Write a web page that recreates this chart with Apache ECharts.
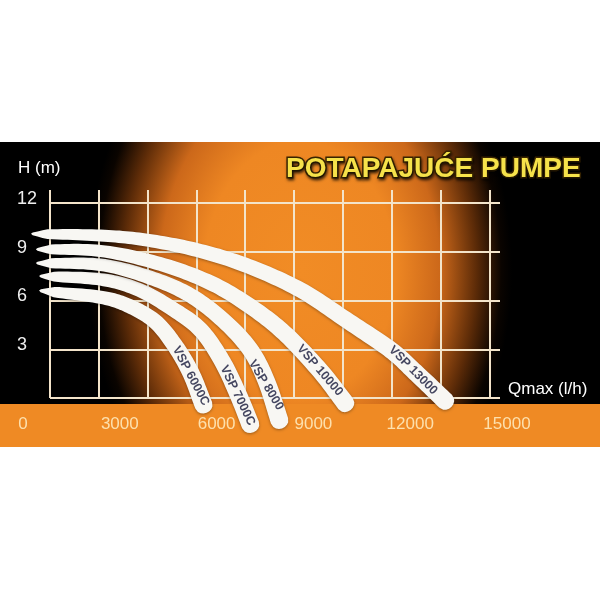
<!DOCTYPE html>
<html><head><meta charset="utf-8">
<script src="https://cdn.jsdelivr.net/npm/echarts@6/dist/echarts.min.js"></script>
<style>html,body{margin:0;padding:0;background:#fff;}#c{width:600px;height:600px;}</style>
</head><body><div id="c"></div>
<script>
// ---- data ----
const xTickValues = [0, 3000, 6000, 9000, 12000, 15000];
const yTickValues = [0, 3, 6, 9, 12];
const curveNames = ['VSP 6000C', 'VSP 7000C', 'VSP 8000', 'VSP 10000', 'VSP 13000'];
const q6000C = [550, 2400, 3300, 4100, 4700, 5200, 5600];
const h6000C = [6.6, 6.2, 5.65, 4.7, 3.25, 1.55, -0.45];
const q7000C = [550, 2400, 3600, 4700, 5500, 6150, 6650, 7050];
const h7000C = [7.5, 7.3, 6.65, 5.4, 4.2, 2.35, 0.3, -1.65];
const q8000 = [450, 2400, 3950, 5200, 6250, 7050, 7550, 7950];
const h8000 = [8.3, 8.2, 7.4, 6.3, 4.7, 2.95, 1.0, -1.4];
const q10000 = [450, 2400, 4250, 5800, 7000, 8100, 9200, 10000];
const h10000 = [9.15, 9.05, 8.25, 7.1, 5.7, 4.0, 1.7, -0.35];
const q13000 = [300, 2400, 3900, 5500, 7000, 8600, 10100, 11400, 12150, 13100];
const h13000 = [10.1, 10.0, 9.7, 9.05, 8.1, 6.65, 4.7, 2.95, 1.6, -0.2];
const labelQ = [5200, 6650, 7530, 9200, 12090];
const labelH = [1.35, 0.15, 0.8, 1.7, 1.7];
// ---- style ----
const labelRotate = [-62, -64, -59, -49, -45];
const curvesQ = [q6000C, q7000C, q8000, q10000, q13000];
const curvesH = [h6000C, h7000C, h8000, h10000, h13000];
const sans = '"Liberation Sans", Arial, sans-serif';

function catmull(pts, steps) {
  const n = pts.length, out = [];
  const P = (k) => {
    if (k < 0) return [2 * pts[0][0] - pts[1][0], 2 * pts[0][1] - pts[1][1]];
    if (k >= n) return [2 * pts[n - 1][0] - pts[n - 2][0], 2 * pts[n - 1][1] - pts[n - 2][1]];
    return pts[k];
  };
  for (let k = 0; k < n - 1; k++) {
    const p0 = P(k - 1), p1 = P(k), p2 = P(k + 1), p3 = P(k + 2);
    for (let s = 0; s < steps; s++) {
      const t = s / steps, t2 = t * t, t3 = t2 * t;
      out.push([0, 1].map(d => 0.5 * ((2 * p1[d]) + (-p0[d] + p2[d]) * t +
        (2 * p0[d] - 5 * p1[d] + 4 * p2[d] - p3[d]) * t2 + (-p0[d] + 3 * p1[d] - 3 * p2[d] + p3[d]) * t3)));
    }
  }
  out.push(pts[n - 1]);
  return out;
}

function bandPolygon(pts) {
  const d = catmull(pts, 14);
  const m = d.length;
  const len = [0];
  for (let k = 1; k < m; k++) len.push(len[k - 1] + Math.hypot(d[k][0] - d[k - 1][0], d[k][1] - d[k - 1][1]));
  const L = len[m - 1];
  const up = [], lo = [], tans = [];
  for (let k = 0; k < m; k++) {
    const a = d[Math.max(0, k - 1)], b = d[Math.min(m - 1, k + 1)];
    let tx = b[0] - a[0], ty = b[1] - a[1];
    const tl = Math.hypot(tx, ty) || 1; tx /= tl; ty /= tl;
    tans.push([tx, ty]);
    const t = len[k] / L;
    let w = 8 + 10 * Math.sqrt(t);
    if (len[k] < 14) w *= 0.35 + 0.65 * (len[k] / 14);
    const nx = -ty, ny = tx;
    up.push([d[k][0] + nx * w / 2, d[k][1] + ny * w / 2, w]);
    lo.push([d[k][0] - nx * w / 2, d[k][1] - ny * w / 2, w]);
  }
  const poly = [];
  const t0 = tans[0], w0 = up[0][2];
  poly.push([d[0][0] - t0[0] * w0 * 0.6, d[0][1] - t0[1] * w0 * 0.6]);
  up.forEach(p => poly.push([p[0], p[1]]));
  const te = tans[m - 1], we = up[m - 1][2], e = d[m - 1];
  const nx = -te[1], ny = te[0];
  for (let a = 60; a >= -60; a -= 20) {
    const r = a * Math.PI / 180;
    const c = Math.cos(r) * 0.45 * we, s = Math.sin(r) * 0.5 * we;
    poly.push([e[0] + te[0] * c + nx * s, e[1] + te[1] * c + ny * s]);
  }
  for (let k = m - 1; k >= 0; k--) poly.push([lo[k][0], lo[k][1]]);
  return poly;
}

const chart = echarts.init(document.getElementById('c'), null, {renderer: 'canvas'});

const series = curveNames.map((n, i) => ({
  type: 'custom', name: n, xAxisIndex: 0, yAxisIndex: 0, coordinateSystem: 'cartesian2d',
  data: [[curvesQ[i][0], curvesH[i][0]]], clip: false, silent: true, z: 3,
  renderItem: (params, api) => {
    const pts = curvesQ[i].map((q, k) => api.coord([q, curvesH[i][k]]));
    return {type: 'polygon', shape: {points: bandPolygon(pts)},
      style: {fill: '#f8f7f3', shadowColor: 'rgba(0,0,0,0.35)', shadowBlur: 3, shadowOffsetY: 1}};
  }
}));
series.push({
  type: 'scatter', xAxisIndex: 0, yAxisIndex: 0, clip: false, silent: true,
  symbolSize: 1, itemStyle: {color: 'rgba(0,0,0,0)'},
  data: curveNames.map((n, i) => ({value: [labelQ[i], labelH[i]], name: n, label: {rotate: labelRotate[i]}})),
  label: {show: true, position: 'inside', formatter: '{b}', color: '#15183a', fontWeight: 'bold', fontSize: 12.5, fontFamily: sans},
  z: 5
});

chart.setOption({
  animation: false,
  backgroundColor: '#ffffff',
  title: {
    text: 'POTAPAJUĆE PUMPE', left: 286, top: 155, padding: 0,
    textStyle: {color: '#f6e24a', fontSize: 28, fontWeight: 'bold', fontFamily: sans,
      textBorderColor: '#3a2500', textBorderWidth: 3, textShadowColor: 'rgba(0,0,0,0.6)', textShadowBlur: 3, textShadowOffsetX: 1, textShadowOffsetY: 2}
  },
  graphic: {elements: [
    {type: 'rect', z: -100, silent: true, shape: {x: 0, y: 142, width: 600, height: 305}, style: {fill: '#000'}},
    {type: 'rect', z: -99, silent: true, x: 300, y: 270, scaleY: 1.35, shape: {x: -212, y: -212, width: 424, height: 424},
      style: {fill: {type: 'radial', x: 0.5, y: 0.5, r: 0.5, colorStops: [
        {offset: 0, color: '#f18c25'}, {offset: 0.45, color: '#ee8723'}, {offset: 0.66, color: '#cc681a'},
        {offset: 0.83, color: '#5e2c08'}, {offset: 0.95, color: '#0a0400'}, {offset: 1, color: '#000'}]}}},
    {type: 'rect', z: -98, silent: true, shape: {x: 0, y: 0, width: 600, height: 142}, style: {fill: '#fff'}},
    {type: 'rect', z: -98, silent: true, shape: {x: 0, y: 447, width: 600, height: 153}, style: {fill: '#fff'}},
    {type: 'rect', z: -97, silent: true, shape: {x: 0, y: 404, width: 600, height: 43}, style: {fill: '#ef8a24'}}
  ]},
  grid: [
    {left: 23, right: 93, top: 203, bottom: 202},
    {left: 50, right: 100, top: 190, bottom: 202}
  ],
  xAxis: [
    {type: 'value', gridIndex: 0, min: xTickValues[0], max: xTickValues[xTickValues.length - 1], interval: xTickValues[1] - xTickValues[0],
      axisLine: {show: false}, axisTick: {show: false}, splitLine: {show: false},
      axisLabel: {margin: 18, color: '#fde0ad', fontSize: 17, fontFamily: sans, formatter: (v) => String(v)},
      name: 'Qmax (l/h)', nameLocation: 'end', nameGap: 1,
      nameTextStyle: {color: '#ffffff', fontSize: 17, fontFamily: sans, align: 'left', verticalAlign: 'bottom'}},
    {type: 'value', gridIndex: 1, min: 0, max: 9.22, interval: 1,
      axisLine: {show: false}, axisTick: {show: false}, axisLabel: {show: false},
      splitLine: {show: true, showMaxLine: false, lineStyle: {color: '#f3e4ca', width: 2}}}
  ],
  yAxis: [
    {type: 'value', gridIndex: 0, min: yTickValues[0], max: yTickValues[yTickValues.length - 1], interval: yTickValues[1] - yTickValues[0], offset: 5,
      axisLine: {show: false}, axisTick: {show: false}, splitLine: {show: false},
      axisLabel: {showMinLabel: false, align: 'left', verticalAlign: 'bottom', padding: [0, 0, -5, 0], margin: 1, color: '#eeeeee', fontSize: 18, fontFamily: sans},
      name: 'H (m)', nameLocation: 'end', nameGap: 26,
      nameTextStyle: {color: '#ffffff', fontSize: 17, fontFamily: sans, align: 'left', padding: [0, 0, 0, -5]}},
    {type: 'value', gridIndex: 1, min: 0, max: 4.267, interval: 1,
      axisLine: {show: false}, axisTick: {show: false}, axisLabel: {show: false},
      splitLine: {show: true, showMaxLine: false, lineStyle: {color: '#f3e4ca', width: 2}}}
  ],
  series: series
});
</script></body></html>
